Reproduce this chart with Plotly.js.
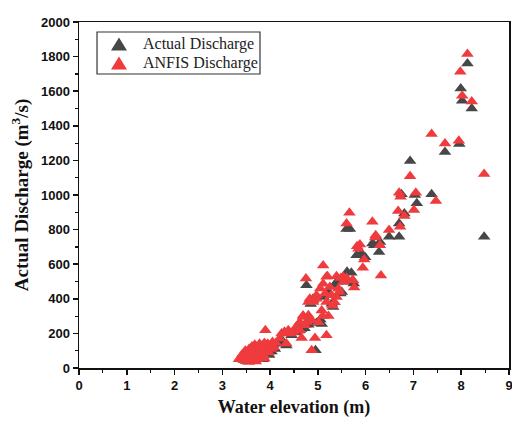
<!DOCTYPE html>
<html>
<head>
<meta charset="utf-8">
<script src="https://cdn.plot.ly/plotly-3.0.1.min.js"></script>
<style>html,body{margin:0;padding:0;background:#fff;}#chart{width:512px;height:423px;}</style>
</head>
<body>
<div id="chart"></div>
<script>
// Actual discharge: water elevation (m) and discharge (m3/s)
const actualElev = [8.13,7.99,8.02,8.22,7.96,7.66,6.93,7.38,7.07,7.03,6.75,6.81,6.70,6.49,6.70,8.48,6.28,6.30,6.14,6.18,5.91,5.81,5.60,5.67,5.61,5.70,5.75,4.76,5.47,5.29,4.95,
  3.40,3.45,3.48,3.52,3.55,3.58,3.60,3.62,3.65,3.67,3.70,3.72,3.75,3.78,3.80,3.82,3.85,3.88,3.90,3.93,3.95,3.98,4.00,4.03,4.06,4.10,4.15,4.20,3.50,3.68,3.85,
  4.25,4.34,4.45,4.55,4.65,4.72,4.80,4.85,4.90,4.97,5.05,5.08,5.12,5.20,5.25,5.32,5.35,5.40,5.46,5.50,5.56,5.99];
const actualQ = [1760,1615,1545,1500,1295,1248,1196,1005,953,1000,1005,893,758,758,835,758,671,729,720,710,662,652,804,804,556,550,488,478,430,372,102,
  55,70,50,85,60,45,95,70,55,110,80,60,100,75,120,90,65,110,85,130,100,75,120,95,135,110,140,150,40,45,50,
  160,130,190,205,225,230,250,370,400,260,280,255,410,440,430,352,480,500,439,440,500,640];

// ANFIS discharge: water elevation (m) and discharge (m3/s)
const anfisElev = [8.13,7.98,8.02,8.22,7.38,7.66,7.95,8.48,6.93,6.70,7.05,6.73,7.47,7.01,6.68,6.81,6.72,6.49,6.14,6.21,6.20,6.30,6.32,5.66,5.60,5.88,5.82,5.97,5.94,5.85,
  3.35,3.38,3.42,3.45,3.48,3.50,3.53,3.56,3.58,3.60,3.62,3.64,3.66,3.68,3.70,3.72,3.74,3.76,3.78,3.80,3.82,3.84,3.86,3.88,3.90,3.90,3.92,3.95,3.97,4.00,4.02,4.05,4.08,4.12,3.55,3.70,3.88,3.46,3.62,3.78,
  4.20,4.24,4.30,4.34,4.38,4.42,4.48,4.55,4.60,4.62,4.66,4.62,4.69,4.69,4.73,4.76,4.80,4.83,4.87,4.87,4.94,4.80,4.90,4.90,4.97,4.97,4.83,4.75,5.01,5.08,5.11,5.11,5.18,5.18,5.18,5.20,5.25,5.39,5.39,5.43,5.53,5.53,5.74,5.76,5.72,5.30,5.35,5.45,5.05,5.15,5.22,5.10,5.28,5.48,5.60];
const anfisQ = [1815,1713,1574,1540,1352,1298,1314,1121,1109,1013,1013,990,965,913,907,878,816,797,845,768,755,710,534,897,835,714,704,627,579,690,
  50,60,80,45,100,65,50,110,80,40,125,90,60,135,100,50,120,80,140,60,105,130,75,145,95,218,120,140,90,130,110,150,120,145,35,38,55,70,95,110,
  170,199,210,141,218,200,208,240,215,218,174,265,295,304,247,266,305,285,276,102,174,382,391,382,401,420,400,517,265,333,593,487,381,527,189,530,468,530,410,458,497,527,506,465,507,360,380,440,460,430,300,300,420,520,520];

const xTicks = [0,1,2,3,4,5,6,7,8,9];
const yTicks = [0,200,400,600,800,1000,1200,1400,1600,1800,2000];
const seriesNames = ['Actual Discharge','ANFIS Discharge'];

const darkCol = '#474747', redCol = '#ef3b3e';
const seriesCols = [darkCol, redCol];

const traces = [
  {x: actualElev, y: actualQ, type:'scatter', mode:'markers', name:seriesNames[0],
   marker:{symbol:'triangle-up', size:11, color:darkCol}, cliponaxis:false},
  {x: anfisElev, y: anfisQ, type:'scatter', mode:'markers', name:seriesNames[1],
   marker:{symbol:'triangle-up', size:11, color:redCol}, cliponaxis:false}
];

const tickFont = {family:'Liberation Sans, Arial, sans-serif', size:13, color:'#111', weight:'bold'};
const xTitleFont = {family:'Liberation Serif, Times New Roman, serif', size:18, color:'#111', weight:'bold'};
const yTitleFont = {family:'Liberation Serif, Times New Roman, serif', size:19, color:'#111', weight:'bold'};
const legFont = {family:'Liberation Serif, Times New Roman, serif', size:16, color:'#222'};

// compact hand-built legend (box + triangle symbol + label)
const legRows = [0.9364, 0.8815];
const legX = 0.093, hw = 0.0186, hh = 0.0188;
const legendAnns = [];
const legendShapes = [{type:'rect', xref:'paper', yref:'paper', x0:0.0419, x1:0.4209, y0:0.8497, y1:0.9711,
    line:{color:'#333', width:1.2}, fillcolor:'#fff', layer:'above'}];
seriesNames.forEach((n, i) => {
  const yc = legRows[i];
  legendShapes.push({type:'path', xref:'paper', yref:'paper', layer:'above',
    path:`M ${legX-hw},${yc-hh} L ${legX+hw},${yc-hh} L ${legX},${yc+hh} Z`,
    fillcolor:seriesCols[i], line:{width:0}});
  legendAnns.push({xref:'paper', yref:'paper', x:0.1442, y:yc, xanchor:'left', yanchor:'middle',
    text:n, showarrow:false, font:legFont});
});

const layout = {
  width:512, height:423,
  margin:{l:79, r:3, t:22, b:55},
  paper_bgcolor:'#fff', plot_bgcolor:'#fff',
  showlegend:false,
  shapes: legendShapes,
  annotations: legendAnns,
  xaxis:{range:[0,9], tickvals:xTicks, ticktext:xTicks.map(String), ticks:'outside', ticklen:5, tickwidth:1.5,
    tickcolor:'#111', showline:true, linecolor:'#111', linewidth:1.5, mirror:true, showgrid:false, zeroline:false,
    tickfont:tickFont, ticklabeloverflow:'allow',
    minor:{dtick:0.5, ticks:'outside', ticklen:3, tickwidth:1.2, tickcolor:'#111', showgrid:false},
    title:{text:'Water elevation (m)', font:xTitleFont, standoff:8}},
  yaxis:{range:[0,2000], tickvals:yTicks, ticktext:yTicks.map(String), ticks:'outside', ticklen:5, tickwidth:1.5,
    tickcolor:'#111', showline:true, linecolor:'#111', linewidth:1.5, mirror:true, showgrid:false, zeroline:false,
    tickfont:tickFont,
    minor:{dtick:100, ticks:'outside', ticklen:3, tickwidth:1.2, tickcolor:'#111', showgrid:false},
    title:{text:'Actual Discharge (m<sup>3</sup>/s)', font:yTitleFont, standoff:7}}
};

Plotly.newPlot('chart', traces, layout, {displayModeBar:false, staticPlot:true});
</script>
</body>
</html>
